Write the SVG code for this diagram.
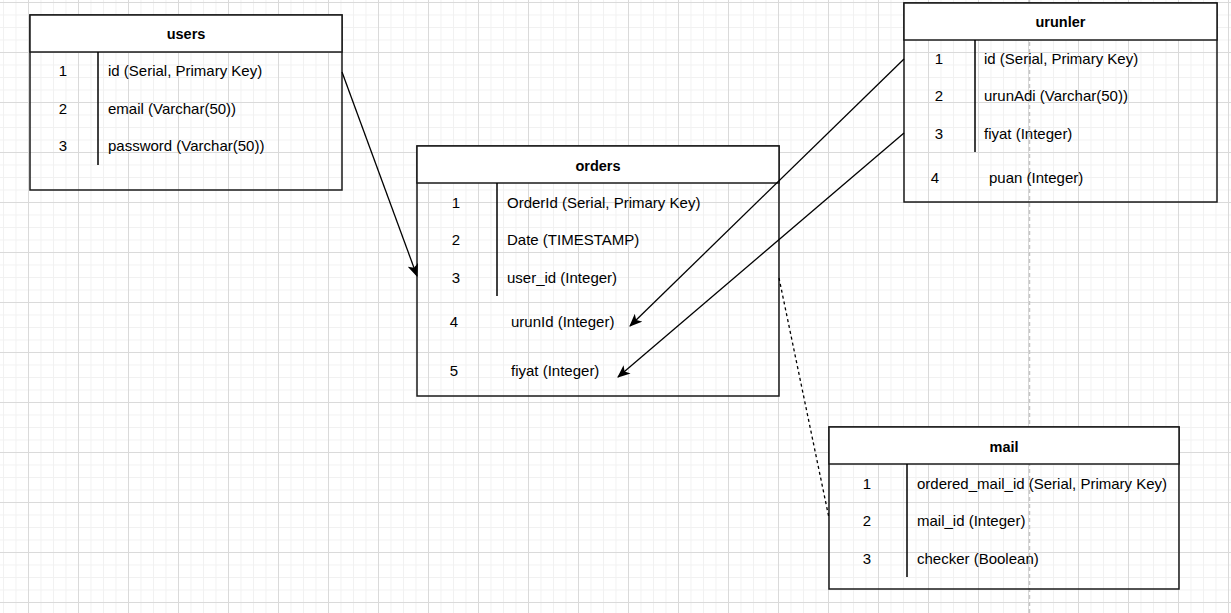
<svg xmlns="http://www.w3.org/2000/svg" width="1231" height="613" viewBox="0 0 1231 613">
  <defs>
    <pattern id="minor" x="3" y="2" width="12.5" height="12.5" patternUnits="userSpaceOnUse">
      <rect x="0" y="0" width="1" height="12.5" fill="#f1f1f1"/>
      <rect x="0" y="0" width="12.5" height="1" fill="#f1f1f1"/>
    </pattern>
    <pattern id="major" x="28" y="2" width="50" height="50" patternUnits="userSpaceOnUse">
      <rect x="0" y="0" width="1" height="50" fill="#dadada"/>
      <rect x="0" y="0" width="50" height="1" fill="#dadada"/>
    </pattern>
    <marker id="arrow" viewBox="0 0 12 10" refX="11" refY="5" markerWidth="13" markerHeight="11" markerUnits="userSpaceOnUse" orient="auto">
      <path d="M0,0 L12,5 L0,10 L3,5 Z" fill="#000"/>
    </marker>
    <style>
      .frame { fill: none; stroke: #1a1a1a; stroke-width: 1.5; }
      .head { fill: #fff; stroke: #1a1a1a; stroke-width: 1.5; }
      .div { stroke: #000; stroke-width: 1.5; }
      .title { font-family: "Liberation Sans", Arial, sans-serif; font-size: 14.5px; font-weight: bold; fill: #000; text-anchor: middle; }
      .num { font-family: "Liberation Sans", Arial, sans-serif; font-size: 15px; fill: #000; text-anchor: middle; }
      .txt { font-family: "Liberation Sans", Arial, sans-serif; font-size: 15px; fill: #000; }
      .link { fill: none; stroke: #000; stroke-width: 1.3; }
      .dash { fill: none; stroke: #000; stroke-width: 1.3; stroke-dasharray: 3 3; }
    </style>
  </defs>

  <!-- canvas grid -->
  <rect width="1231" height="613" fill="#fff"/>
  <g shape-rendering="crispEdges">
    <rect width="1231" height="613" fill="url(#minor)"/>
    <rect width="1231" height="613" fill="url(#major)"/>
  </g>

  <!-- page break guide -->
  <line x1="1029.5" y1="0" x2="1029.5" y2="613" stroke="#c6c6c6" stroke-width="1.5" stroke-dasharray="4 3"/>

  <g id="users">
    <rect class="frame" x="30" y="15" width="312" height="175"/>
    <rect class="head" x="30" y="15" width="312" height="37"/>
    <text class="title" x="186" y="39">users</text>
    <line class="div" x1="98" y1="52" x2="98" y2="165"/>
    <text class="num" x="63" y="76">1</text>
    <text class="txt" x="108" y="76">id (Serial, Primary Key)</text>
    <text class="num" x="63" y="114">2</text>
    <text class="txt" x="108" y="114">email (Varchar(50))</text>
    <text class="num" x="63" y="151">3</text>
    <text class="txt" x="108" y="151">password (Varchar(50))</text>
  </g>

  <g id="orders">
    <rect class="frame" x="417" y="146" width="362" height="250"/>
    <rect class="head" x="417" y="146" width="362" height="37"/>
    <text class="title" x="598" y="171">orders</text>
    <line class="div" x1="497" y1="183" x2="497" y2="296"/>
    <text class="num" x="456" y="208">1</text>
    <text class="txt" x="507" y="208">OrderId (Serial, Primary Key)</text>
    <text class="num" x="456" y="245">2</text>
    <text class="txt" x="507" y="245">Date (TIMESTAMP)</text>
    <text class="num" x="456" y="283">3</text>
    <text class="txt" x="507" y="283">user_id (Integer)</text>
    <text class="num" x="454" y="327">4</text>
    <text class="txt" x="511" y="327">urunId (Integer)</text>
    <text class="num" x="454" y="376">5</text>
    <text class="txt" x="511" y="376">fiyat (Integer)</text>
  </g>

  <g id="urunler">
    <rect class="frame" x="904" y="3" width="313" height="199"/>
    <rect class="head" x="904" y="3" width="313" height="37"/>
    <text class="title" x="1060.5" y="27">urunler</text>
    <line class="div" x1="975" y1="40" x2="975" y2="152"/>
    <text class="num" x="939" y="64">1</text>
    <text class="txt" x="984" y="64">id (Serial, Primary Key)</text>
    <text class="num" x="939" y="101">2</text>
    <text class="txt" x="984" y="101">urunAdi (Varchar(50))</text>
    <text class="num" x="939" y="139">3</text>
    <text class="txt" x="984" y="139">fiyat (Integer)</text>
    <text class="num" x="935" y="183">4</text>
    <text class="txt" x="989" y="183">puan (Integer)</text>
  </g>

  <g id="mail">
    <rect class="frame" x="829" y="427" width="350" height="162"/>
    <rect class="head" x="829" y="427" width="350" height="37"/>
    <text class="title" x="1004" y="452">mail</text>
    <line class="div" x1="907" y1="464" x2="907" y2="577"/>
    <text class="num" x="867" y="489">1</text>
    <text class="txt" x="917" y="489">ordered_mail_id (Serial, Primary Key)</text>
    <text class="num" x="867" y="526">2</text>
    <text class="txt" x="917" y="526">mail_id (Integer)</text>
    <text class="num" x="867" y="564">3</text>
    <text class="txt" x="917" y="564">checker (Boolean)</text>
  </g>

  <g id="connectors">
    <line class="link" x1="342" y1="72" x2="417" y2="276" marker-end="url(#arrow)"/>
    <line class="link" x1="904" y1="59" x2="630" y2="326" marker-end="url(#arrow)"/>
    <line class="link" x1="904" y1="133" x2="618" y2="377" marker-end="url(#arrow)"/>
    <line class="dash" x1="779" y1="278" x2="829" y2="518"/>
  </g>
</svg>
